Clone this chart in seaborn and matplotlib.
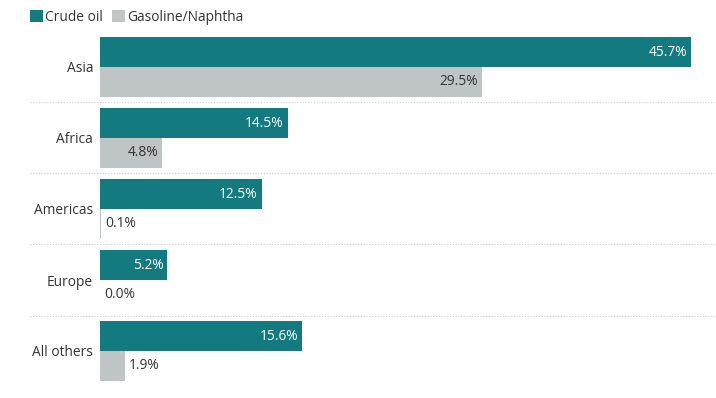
import matplotlib
matplotlib.use("Agg")
import matplotlib.pyplot as plt
import seaborn as sns
import pandas as pd
from matplotlib.patches import Patch

regions = ["Asia", "Africa", "Americas", "Europe", "All others"]
crude_oil = [45.7, 14.5, 12.5, 5.2, 15.6]
gasoline = [29.5, 4.8, 0.1, 0.0, 1.9]
series_names = ["Crude oil", "Gasoline/Naphtha"]

TEAL = "#137b7f"
GRAY = "#bfc4c4"
TEXT = "#333333"
FS = 9.9

sns.set_theme(style="white")
plt.rcParams["font.family"] = ["Open Sans", "DejaVu Sans"]

df = pd.DataFrame({
    "region": regions * 2,
    "value": crude_oil + gasoline,
    "series": [series_names[0]] * len(regions) + [series_names[1]] * len(regions),
})

fig = plt.figure(figsize=(7.16, 3.98), dpi=100)
ax = fig.add_axes([100 / 716, 11.5 / 398, 616 / 716, 355 / 398])

sns.barplot(data=df, y="region", x="value", hue="series", orient="h",
            palette=[TEAL, GRAY], width=0.845, dodge=True, ax=ax,
            saturation=1, legend=False, gap=0, linewidth=0, edgecolor="none")

ax.set_xlim(0, 47.6)
ax.set_ylim(4.5, -0.5)
ax.set_xlabel("")
ax.set_ylabel("")
ax.set_xticks([])
for s in ax.spines.values():
    s.set_visible(False)
ax.tick_params(axis="y", length=0, pad=5, labelsize=FS, labelcolor=TEXT)

# value labels
px = 47.6 / 616  # data units per pixel
for cont, vals, ser in zip(ax.containers, [crude_oil, gasoline], series_names):
    for bar, v in zip(cont, vals):
        yc = bar.get_y() + bar.get_height() / 2
        lab = f"{v:.1f}%"
        if ser == "Crude oil":
            ax.text(v - 4 * px, yc, lab, ha="right", va="center", color="white", fontsize=FS)
        else:
            if v > 3:
                ax.text(v - 4 * px, yc, lab, ha="right", va="center", color=TEXT, fontsize=FS)
            else:
                ax.text(v + 4 * px, yc, lab, ha="left", va="center", color=TEXT, fontsize=FS)

# separators
for y in [0.5, 1.5, 2.5, 3.5]:
    ax.axhline(y, xmin=-70 / 616, xmax=1, color="#cccccc", lw=0.8,
               ls=(0, (1, 1.5)), clip_on=False)

handles = [Patch(facecolor=TEAL, edgecolor="none"), Patch(facecolor=GRAY, edgecolor="none")]
fig.legend(handles, series_names, loc="upper left", bbox_to_anchor=(20 / 716, 1.0),
           ncol=2, frameon=False, handlelength=0.95, handleheight=0.95,
           handletextpad=0.15, columnspacing=0.7, fontsize=FS, labelcolor=TEXT,
           borderaxespad=0.3)

fig.savefig("out.png", dpi=100)
